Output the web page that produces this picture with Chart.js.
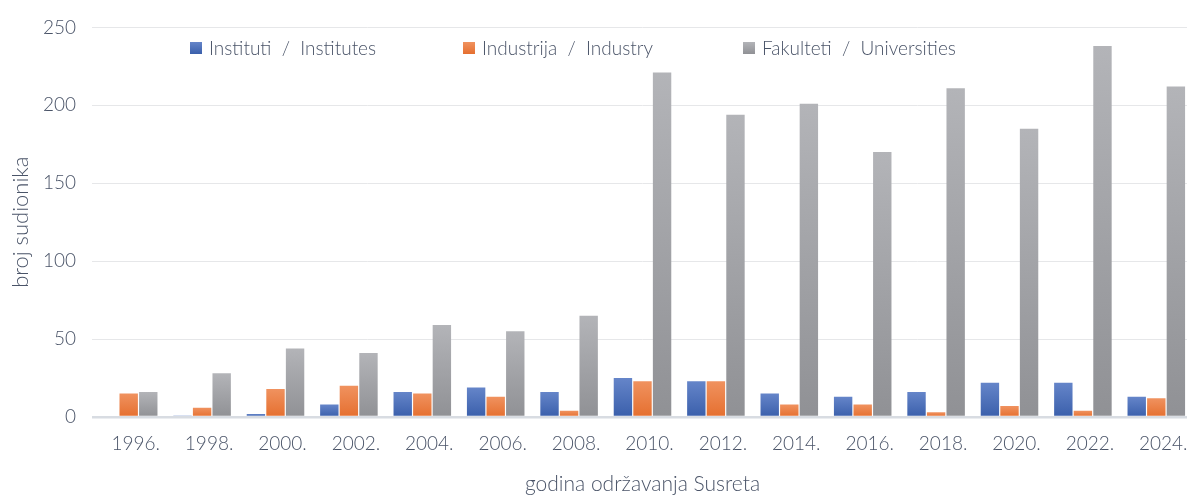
<!DOCTYPE html>
<html>
<head>
<meta charset="utf-8">
<script src="https://cdn.jsdelivr.net/npm/chart.js@4/dist/chart.umd.min.js"></script>
<style>
  html, body { margin: 0; padding: 0; background: #fff; overflow: hidden; }
  #wrap { position: relative; width: 1194px; height: 497px; }
  #legend span.item { position: absolute; top: 36px; display: flex; align-items: center; white-space: nowrap;
      font-family: Lato, sans-serif; font-weight: 300; font-size: 19px; color: #4a5468; }
  #legend i { display: inline-block; width: 12px; height: 12px; margin-right: 7px; }
</style>
</head>
<body>
<div id="wrap">
  <canvas id="chart" width="1194" height="497"></canvas>
  <div id="legend"></div>
</div>
<script>
let years = ['1996.', '1998.', '2000.', '2002.', '2004.', '2006.', '2008.', '2010.', '2012.', '2014.', '2016.', '2018.', '2020.', '2022.', '2024.']
let instituti = [0, 1, 2, 8, 16, 19, 16, 25, 23, 15, 13, 16, 22, 22, 13]
let industrija = [15, 6, 18, 20, 15, 13, 4, 23, 23, 8, 8, 3, 7, 4, 12]
let fakulteti = [16, 28, 44, 41, 59, 55, 65, 221, 194, 201, 170, 211, 185, 238, 212]
let seriesNames = ['Instituti  /  Institutes', 'Industrija  /  Industry', 'Fakulteti  /  Universities']
let yTicks = [0, 50, 100, 150, 200, 250]

const textColor = '#4a5468'
const fontFamily = 'Lato'
const colors = [
    ['#6585c9', '#3a5fab'],
    ['#f0925f', '#e56f2f'],
    ['#b3b4b8', '#909195']
]
const legendLeft = [190, 463, 743]

// vertical gradient on each bar, light on top
function barFill(top, bottom){
    return function(ctx){
        const chart = ctx.chart
        if (ctx.type !== 'data' || !chart.scales.y) return bottom
        const y = chart.scales.y
        const yt = y.getPixelForValue(ctx.raw)
        const yb = y.getPixelForValue(0)
        if (!(yb > yt)) return bottom
        const g = chart.ctx.createLinearGradient(0, yt, 0, yb)
        g.addColorStop(0, top)
        g.addColorStop(1, bottom)
        return g
    }
}

const allData = [instituti, industrija, fakulteti]

const legendBox = document.getElementById('legend')
seriesNames.forEach((name, i) => {
    const item = document.createElement('span')
    item.className = 'item'
    item.style.left = legendLeft[i] + 'px'
    item.innerHTML = `<i style="background:linear-gradient(${colors[i][0]}, ${colors[i][1]})"></i>${name.replace(/ /g, '&nbsp;')}`
    legendBox.appendChild(item)
})

const ctx = document.getElementById('chart').getContext('2d')
const myChart = new Chart(ctx, {
    type: 'bar',
    data: {
        labels: years,
        datasets: allData.map((d, i) => ({
            label: seriesNames[i],
            data: d,
            backgroundColor: barFill(colors[i][0], colors[i][1]),
            borderWidth: 0,
            categoryPercentage: 0.8,
            barPercentage: 0.94
        }))
    },
    options: {
        responsive: false,
        animation: false,
        layout: {
            padding: { top: 11, right: 1, left: 0, bottom: 0 }
        },
        plugins: {
            legend: { display: false },
            tooltip: { enabled: false }
        },
        scales: {
            x: {
                grid: { display: false },
                border: { display: false },
                ticks: {
                    color: textColor,
                    font: { family: fontFamily, size: 19, weight: 300 },
                    labelOffset: 7,
                    padding: 7,
                    maxRotation: 0,
                    autoSkip: false
                },
                title: {
                    display: true,
                    text: 'godina održavanja Susreta',
                    color: textColor,
                    font: { family: fontFamily, size: 21, weight: 300 },
                    padding: { top: 10, bottom: 0 }
                }
            },
            y: {
                min: 0,
                max: 250,
                afterBuildTicks: axis => { axis.ticks = yTicks.map(v => ({ value: v })) },
                afterFit: axis => { axis.width = 92 },
                grid: {
                    color: c => c.tick && c.tick.value === 0 ? '#d8dce2' : '#e6e7e9',
                    lineWidth: c => c.tick && c.tick.value === 0 ? 2.5 : 1,
                    drawTicks: false
                },
                border: { display: false },
                ticks: {
                    color: textColor,
                    font: { family: fontFamily, size: 19, weight: 300 },
                    padding: 16
                },
                title: {
                    display: true,
                    text: 'broj sudionika',
                    color: textColor,
                    font: { family: fontFamily, size: 22, weight: 300 },
                    padding: { top: 8, bottom: 0 }
                }
            }
        }
    }
})
</script>
</body>
</html>
